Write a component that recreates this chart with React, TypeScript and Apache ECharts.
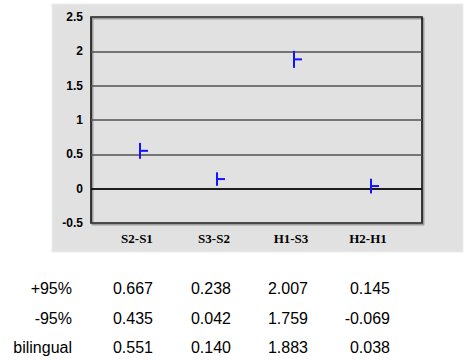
import React, { useEffect, useRef } from "react";
import * as echarts from "echarts";

const categories = ["S2-S1", "S3-S2", "H1-S3", "H2-H1"];
const upper95 = [0.667, 0.238, 2.007, 0.145];
const lower95 = [0.435, 0.042, 1.759, -0.069];
const bilingual = [0.551, 0.14, 1.883, 0.038];
const rowLabels = ["+95%", "-95%", "bilingual"];
const yTicks = [-0.5, 0, 0.5, 1, 1.5, 2, 2.5];

const fmt = (v: number) => v.toFixed(3);

export default function App() {
  const ref = useRef<HTMLDivElement>(null);
  useEffect(() => {
    if (!ref.current) return;
    const chart = echarts.init(ref.current, undefined, { renderer: "svg" });
    const rows = [upper95, lower95, bilingual];
    const rowY = [288, 318, 347];
    const colX = [153, 231, 308, 390];
    const tableTexts: any[] = [];
    rows.forEach((row, r) => {
      tableTexts.push({
        type: "text",
        x: 72,
        y: rowY[r],
        style: {
          text: rowLabels[r],
          fill: "#000",
          font: "16px 'Liberation Sans', Arial, sans-serif",
          align: "right",
          verticalAlign: "middle",
        },
      });
      row.forEach((v, c) => {
        tableTexts.push({
          type: "text",
          x: colX[c],
          y: rowY[r],
          style: {
            text: fmt(v),
            fill: "#000",
            font: "16px 'Liberation Sans', Arial, sans-serif",
            align: "right",
            verticalAlign: "middle",
          },
        });
      });
    });
    const data = categories.map((_, i) => [i, lower95[i], upper95[i], bilingual[i]]);
    chart.setOption({
      animation: false,
      graphic: [
        {
          type: "rect",
          z: -10,
          silent: true,
          shape: { x: 52, y: 4, width: 411, height: 248 },
          style: { fill: "#e1e1e1", stroke: "#ededed", lineWidth: 1 },
        },
        ...tableTexts,
      ],
      grid: {
        left: 91,
        right: 45,
        top: 17,
        bottom: 138,
        show: true,
        backgroundColor: "transparent",
        borderColor: "#000",
        borderWidth: 1.5,
        shadowColor: "rgba(0,0,0,0.4)",
        shadowOffsetX: 1.5,
        shadowOffsetY: 1.5,
        shadowBlur: 0,
      },
      xAxis: {
        type: "value",
        min: -0.597,
        max: 3.701,
        axisLine: { show: false, onZero: false },
        axisTick: { show: false },
        splitLine: { show: false },
        axisLabel: {
          customValues: [0, 1, 2, 3],
          formatter: (v: number) => categories[Math.round(v)] ?? "",
          fontFamily: "'Liberation Serif', 'Times New Roman', serif",
          fontWeight: "bold",
          fontSize: 13,
          color: "#000",
          margin: 9,
        },
      },
      yAxis: {
        type: "value",
        min: yTicks[0],
        max: yTicks[yTicks.length - 1],
        interval: 0.5,
        axisLine: { show: false },
        axisTick: { show: false },
        splitLine: { show: true, lineStyle: { color: "#505050", width: 1.5 } },
        axisLabel: {
          fontFamily: "'Liberation Sans', Arial, sans-serif",
          fontWeight: "bold",
          fontSize: 12,
          color: "#000",
          margin: 8,
        },
      },
      series: [
        {
          type: "custom",
          data,
          encode: { x: 0, y: [1, 2, 3] },
          renderItem: (params: any, api: any) => {
            const i = api.value(0);
            const lo = api.coord([i, api.value(1)]);
            const hi = api.coord([i, api.value(2)]);
            const mid = api.coord([i, api.value(3)]);
            const x = lo[0] + 3;
            const style = { stroke: "#1414ff", lineWidth: 2 };
            return {
              type: "group",
              children: [
                { type: "line", shape: { x1: x, y1: lo[1], x2: x, y2: hi[1] }, style },
                { type: "line", shape: { x1: x, y1: mid[1], x2: x + 8, y2: mid[1] }, style },
              ],
            };
          },
          markLine: {
            silent: true,
            symbol: "none",
            label: { show: false },
            lineStyle: { color: "#000", width: 1.5, type: "solid" },
            data: [{ yAxis: 0 }],
          },
          z: 5,
        },
      ],
    });
    return () => chart.dispose();
  }, []);
  return (
    <div
      ref={ref}
      style={{ position: "absolute", left: 0, top: 0, width: 467, height: 361 }}
    />
  );
}
